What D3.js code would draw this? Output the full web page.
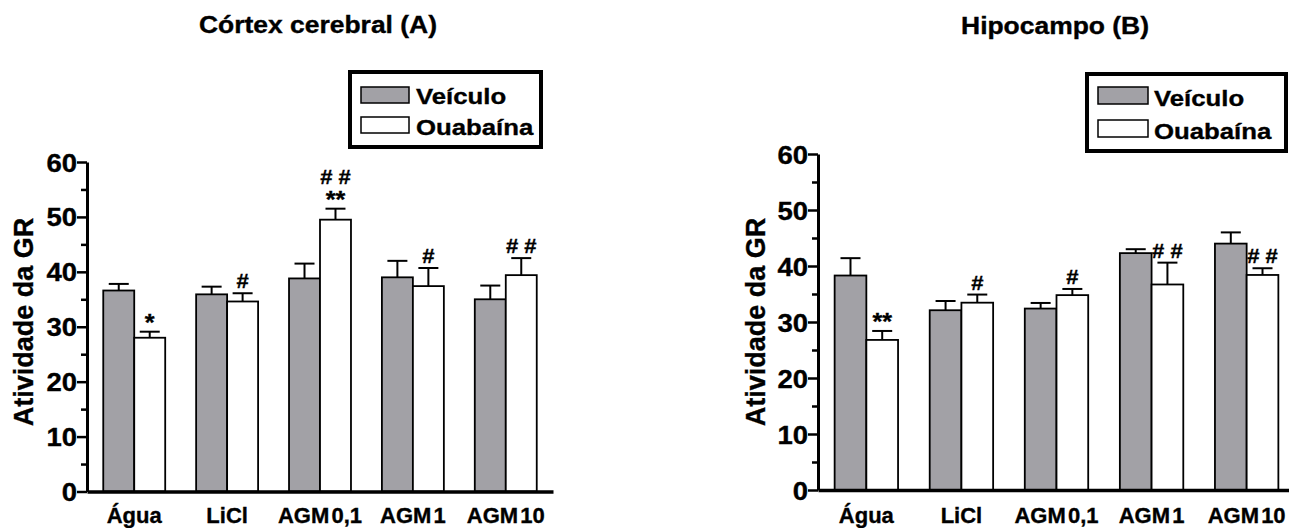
<!DOCTYPE html>
<html>
<head>
<meta charset="utf-8">
<script src="https://cdn.jsdelivr.net/npm/d3@7"></script>
<style>
  body { margin: 0; background: #fff; }
  text { font-family: 'Liberation Sans', Arial, sans-serif; font-weight: bold; fill: #000;
         stroke: #000; stroke-width: 0.35px; }
</style>
</head>
<body>
<svg id="chart" width="1289" height="528"></svg>
<script>
// dados
const categories = ['Água', 'LiCl', 'AGM 0,1', 'AGM 1', 'AGM 10'];
const series = ['Veículo', 'Ouabaína'];
const yTicks = [0, 10, 20, 30, 40, 50, 60];
const yMinorTicks = [5, 15, 25, 35, 45, 55];

const cortexVeiculo = [36.6, 35.9, 38.8, 39.0, 35.0];
const cortexVeiculoSem = [1.2, 1.4, 2.7, 3.0, 2.5];
const cortexOuabaina = [28.0, 34.6, 49.5, 37.4, 39.4];
const cortexOuabainaSem = [1.1, 1.5, 2.0, 3.3, 3.1];
const cortexMarks = [['*'], ['#'], ['# #', '**'], ['#'], ['# #']];

const hipoVeiculo = [38.3, 32.1, 32.4, 42.3, 44.0];
const hipoVeiculoSem = [3.1, 1.65, 1.0, 0.7, 2.0];
const hipoOuabaina = [26.8, 33.45, 34.8, 36.7, 38.4];
const hipoOuabainaSem = [1.6, 1.45, 1.1, 3.9, 1.2];
const hipoMarks = [['**'], ['#'], ['#'], ['# #'], ['# #']];

const cinza = '#a2a1a6';
const svg = d3.select('#chart');

// texto "esticado" na horizontal, como na figura original
function placeText(sel, x, y, sx) {
  return sel.attr('transform', `translate(${x},${y}) scale(${sx},1)`);
}

function desenharPainel(cfg) {
  const g = svg.append('g');

  const x = d3.scaleBand()
    .domain(categories)
    .range([cfg.x0, cfg.x1])
    .paddingInner(0.333)
    .paddingOuter(0.175);
  const xs = d3.scaleBand().domain(series).range([0, x.bandwidth()]);
  const y = d3.scaleLinear().domain([0, 60]).range([cfg.yZero, cfg.ySixty]);

  // titulo
  placeText(g.append('text'), cfg.titleX, cfg.titleY, 1.15)
    .attr('text-anchor', 'middle')
    .style('font-size', '23px')
    .text(cfg.title);

  // barras
  const dados = categories.map((c, i) => [
    { cat: c, s: series[0], v: cfg.veiculo[i], e: cfg.veiculoSem[i], marks: [] },
    { cat: c, s: series[1], v: cfg.ouabaina[i], e: cfg.ouabainaSem[i], marks: cfg.marks[i] }
  ]).flat();

  // barras de erro (só para cima)
  const cap = 10;
  dados.forEach(d => {
    const cx = x(d.cat) + xs(d.s) + xs.bandwidth() / 2;
    g.append('line')
      .attr('x1', cx).attr('x2', cx)
      .attr('y1', y(d.v)).attr('y2', y(d.v + d.e))
      .attr('stroke', '#000').attr('stroke-width', 2);
    g.append('line')
      .attr('x1', cx - cap).attr('x2', cx + cap)
      .attr('y1', y(d.v + d.e)).attr('y2', y(d.v + d.e))
      .attr('stroke', '#000').attr('stroke-width', 2);

    // marcas de significância (um só texto, uma linha por tspan)
    const n = d.marks.length;
    if (!n) return;
    const ultima = d.marks[n - 1];
    const base = y(d.v + d.e) + (ultima.includes('*') ? -1 : -5);
    const t = placeText(g.append('text'), cx, base, 1.05).attr('text-anchor', 'middle');
    d.marks.forEach((m, k) => {
      t.append('tspan')
        .attr('x', 0)
        .attr('y', -(n - 1 - k) * 24)
        .style('font-size', m.includes('*') ? '24px' : '21px')
        .text(m);
    });
  });

  g.selectAll('.bar')
    .data(dados)
    .enter()
    .append('rect')
    .attr('x', d => x(d.cat) + xs(d.s))
    .attr('y', d => y(d.v))
    .attr('width', xs.bandwidth())
    .attr('height', d => y(0) - y(d.v))
    .attr('fill', d => d.s === series[0] ? cinza : '#fff')
    .attr('stroke', '#000')
    .attr('stroke-width', 1.8);

  // eixo Y
  const eixoY = g.append('g')
    .attr('transform', `translate(${cfg.x0},0)`)
    .call(d3.axisLeft(y).tickValues(yTicks).tickSize(10).tickSizeOuter(0).tickPadding(1));
  eixoY.select('.domain').attr('stroke-width', 3);
  eixoY.selectAll('.tick line').attr('stroke-width', 2.5);
  eixoY.selectAll('.tick text')
    .attr('x', null).attr('dy', null)
    .attr('transform', 'translate(-10,9) scale(1.1,1)')
    .style('font-size', '25px')
    .style('font-family', null);

  g.append('g')
    .attr('transform', `translate(${cfg.x0},0)`)
    .call(d3.axisLeft(y).tickValues(yMinorTicks).tickSize(6).tickFormat(''))
    .call(s => s.select('.domain').remove())
    .selectAll('.tick line').attr('stroke-width', 2.5);

  // eixo X
  const eixoX = g.append('g')
    .attr('transform', `translate(0,${y(0)})`)
    .call(d3.axisBottom(x).tickSize(0).tickSizeOuter(0));
  eixoX.select('.domain').attr('stroke-width', 3.5);
  eixoX.selectAll('.tick text')
    .attr('y', null).attr('dy', null)
    .attr('transform', `translate(0,${523 - y(0)}) scale(1.0,1)`)
    .style('font-size', '22px')
    .style('word-spacing', '-4px')
    .style('font-family', null);

  // titulo do eixo Y
  g.append('text')
    .attr('transform', `translate(${cfg.yTitleX},${cfg.yTitleY}) rotate(-90)`)
    .attr('text-anchor', 'middle')
    .style('font-size', '27px')
    .text('Atividade da GR');

  // legenda
  const L = cfg.legend;
  g.append('rect')
    .attr('x', L.x).attr('y', L.y).attr('width', L.w).attr('height', L.h)
    .attr('fill', '#fff').attr('stroke', '#000').attr('stroke-width', 4);
  series.forEach((s, i) => {
    g.append('rect')
      .attr('x', L.swX).attr('y', L.swY[i]).attr('width', L.swW).attr('height', L.swH)
      .attr('fill', i === 0 ? cinza : '#fff')
      .attr('stroke', '#000').attr('stroke-width', 1.5);
    placeText(g.append('text'), L.textX, L.textY[i], 1.12)
      .style('font-size', '23px')
      .text(s);
  });
}

desenharPainel({
  title: 'Córtex cerebral (A)', titleX: 318, titleY: 33,
  x0: 87, x1: 553, yZero: 491.5, ySixty: 162,
  yTitleX: 33, yTitleY: 322,
  veiculo: cortexVeiculo, veiculoSem: cortexVeiculoSem,
  ouabaina: cortexOuabaina, ouabainaSem: cortexOuabainaSem,
  marks: cortexMarks,
  legend: { x: 350, y: 72, w: 191, h: 75, swX: 361, swW: 48, swH: 16,
            swY: [87, 117], textX: 416, textY: [104, 135] }
});

desenharPainel({
  title: 'Hipocampo (B)', titleX: 1055, titleY: 34,
  x0: 818, x1: 1295, yZero: 490, ySixty: 154,
  yTitleX: 765, yTitleY: 322,
  veiculo: hipoVeiculo, veiculoSem: hipoVeiculoSem,
  ouabaina: hipoOuabaina, ouabainaSem: hipoOuabainaSem,
  marks: hipoMarks,
  legend: { x: 1087, y: 74, w: 199, h: 77, swX: 1098, swW: 50, swH: 17,
            swY: [87, 120], textX: 1154, textY: [106, 139] }
});
</script>
</body>
</html>
